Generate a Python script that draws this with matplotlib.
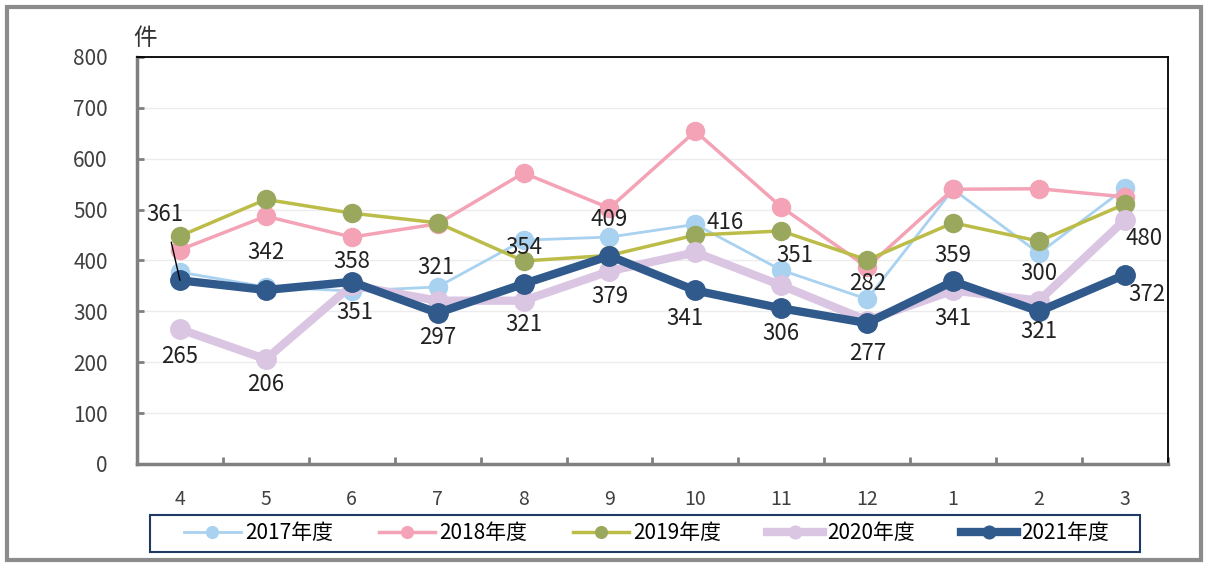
import matplotlib.pyplot as plt
from matplotlib.patches import Rectangle

plt.rcParams['font.family'] = ['Noto Sans CJK JP', 'DejaVu Sans']

# months of the fiscal year (April -> March)
months = ['4', '5', '6', '7', '8', '9', '10', '11', '12', '1', '2', '3']

fy2017 = [377, 348, 340, 348, 440, 446, 471, 381, 324, 540, 414, 542]
fy2018 = [421, 487, 446, 472, 572, 503, 654, 505, 387, 540, 541, 525]
fy2019 = [448, 520, 493, 474, 399, 410, 450, 458, 401, 474, 438, 511]
fy2020 = [265, 206, 351, 321, 321, 379, 416, 351, 282, 341, 321, 480]
fy2021 = [361, 342, 358, 297, 354, 409, 341, 306, 277, 359, 300, 372]

series_names = ['2017年度', '2018年度', '2019年度', '2020年度', '2021年度']

# label offsets in pixels (layout only), one per month
off2020 = [(0, -27), (0, -25), (3, -27), (-2, 33), (0, -24), (0, -25),
           (30, 30), (14, 30), (0, 37), (0, -28), (0, -31), (19, -19)]
off2021 = [(-15, 66), (0, 37), (0, 20), (0, -25), (0, 36), (0, 36),
           (-10, -28), (0, -25), (0, -30), (0, 26), (0, 38), (22, -20)]

fig = plt.figure(figsize=(12.09, 5.67), dpi=100)
fig.add_artist(Rectangle((0.006, 0.012), 0.987, 0.975, transform=fig.transFigure,
                         fill=False, edgecolor='#8c8c8c', linewidth=3))
ax = fig.add_axes([0.1133, 0.1817, 0.8527, 0.7178])

x = range(len(months))
ax.plot(x, fy2017, color='#a9d1f0', linewidth=2, marker='o', markersize=13,
        label=series_names[0])
ax.plot(x, fy2018, color='#f4a3b6', linewidth=2.5, marker='o', markersize=13,
        label=series_names[1])
ax.plot(x, fy2019, color='#bcbc48', linewidth=2.5, marker='o', markersize=13,
        markerfacecolor='#9aa85e', markeredgecolor='#9aa85e', label=series_names[2])
ax.plot(x, fy2020, color='#dac5e2', linewidth=6, marker='o', markersize=14,
        label=series_names[3])
ax.plot(x, fy2021, color='#30598c', linewidth=6, marker='o', markersize=14,
        label=series_names[4])

for i in x:
    ax.annotate(str(fy2020[i]), (i, fy2020[i]), xytext=off2020[i],
                textcoords='offset pixels', ha='center', va='center',
                fontsize=16, color='#222222')
    if i == 0:
        ax.annotate(str(fy2021[i]), (i, fy2021[i]), xytext=off2021[i],
                    textcoords='offset pixels', ha='center', va='center',
                    fontsize=16, color='#222222',
                    arrowprops=dict(arrowstyle='-', color='black', lw=1,
                                    shrinkA=10, shrinkB=0))
    else:
        ax.annotate(str(fy2021[i]), (i, fy2021[i]), xytext=off2021[i],
                    textcoords='offset pixels', ha='center', va='center',
                    fontsize=16, color='#222222')

ax.set_xlim(-0.5, 11.5)
ax.set_ylim(0, 800)
ax.set_yticks(range(0, 801, 100))
ax.set_xticks(x)
ax.set_xticklabels(months)
ax.set_xticks([i - 0.5 for i in range(13)], minor=True)
ax.tick_params(axis='x', which='major', length=0, labelsize=14, pad=18, colors='#404040')
ax.tick_params(axis='x', which='minor', direction='in', length=5, width=2, color='#808080')
ax.tick_params(axis='y', direction='in', length=5, width=2, color='#808080',
               labelsize=15, pad=21, labelcolor='#404040')
ax.grid(axis='y', color='#ececec', linewidth=1)
ax.set_axisbelow(True)

for side in ['left', 'bottom']:
    ax.spines[side].set_color('#808080')
    ax.spines[side].set_linewidth(2.5)
for side in ['top', 'right']:
    ax.spines[side].set_color('black')
    ax.spines[side].set_linewidth(1.3)

fig.text(0.12, 0.932, '件', fontsize=17, color='#333333', ha='center', va='center')

fig.add_artist(Rectangle((0.124, 0.027), 0.819, 0.065, transform=fig.transFigure,
                         fill=False, edgecolor='#1f3864', linewidth=1.5))
leg = fig.legend(loc='center', ncol=5, bbox_to_anchor=(0.535, 0.0595),
                 fontsize=15, frameon=False, handlelength=2.7, columnspacing=2.2,
                 markerscale=0.65, handletextpad=0.2)

fig.savefig('out.png', dpi=100)
